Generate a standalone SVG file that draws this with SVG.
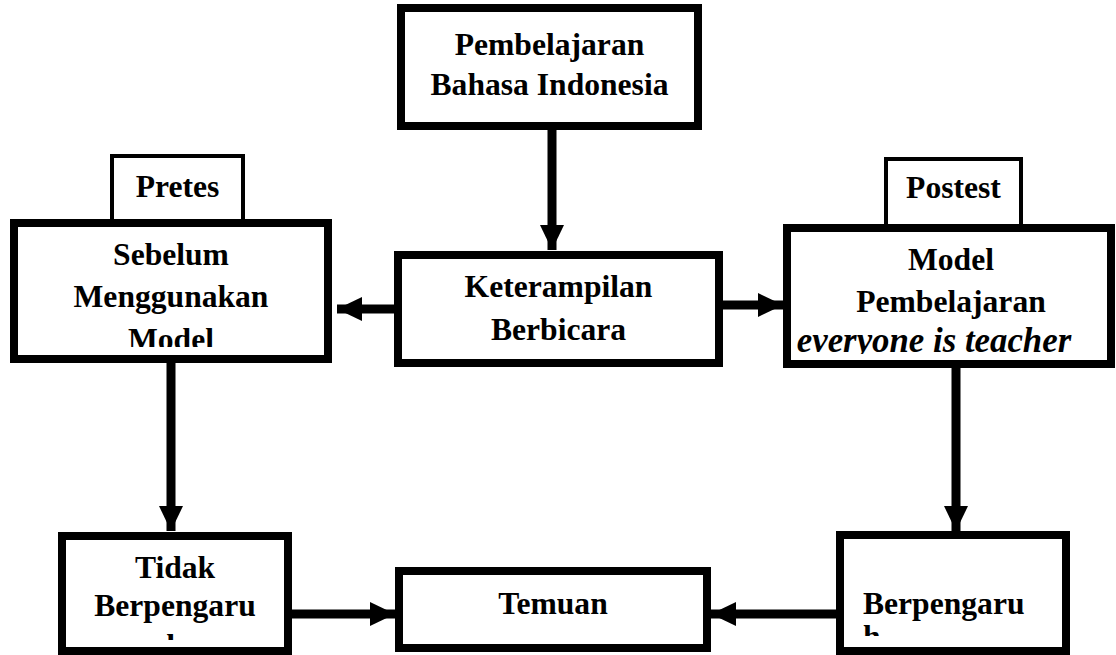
<svg xmlns="http://www.w3.org/2000/svg" width="1116" height="655" viewBox="0 0 1116 655">
<style>
.box{fill:#fff;stroke:#000;stroke-width:8}
.tab{fill:#fff;stroke:#000;stroke-width:4}
.t{font-family:"Liberation Serif","Times New Roman",serif;font-weight:bold;font-size:31.6px;fill:#000;text-anchor:middle}
.l{text-anchor:start}
.it{font-style:italic;font-size:34.8px}
.c{stroke:#000;stroke-width:9;fill:none;marker-end:url(#ah)}
</style>
<defs>
<marker id="ah" markerUnits="userSpaceOnUse" markerWidth="25" markerHeight="24" refX="25" refY="12" orient="auto">
<path d="M0,0 L25,12 L0,24 Z" fill="#000"/>
</marker>
<clipPath id="cPre"><rect x="18" y="227" width="306" height="120"/></clipPath>
<clipPath id="cPost"><rect x="791" y="232" width="316" height="122"/></clipPath>
<clipPath id="cTidak"><rect x="66" y="540" width="218" height="100"/></clipPath>
<clipPath id="cBer"><rect x="844" y="539" width="218" height="97"/></clipPath>
</defs>
<g id="connectors">
<line class="c" x1="552" y1="130" x2="552" y2="250"/>
<line class="c" x1="400" y1="309" x2="337" y2="309"/>
<line class="c" x1="722" y1="305" x2="783" y2="305"/>
<line class="c" x1="171" y1="362" x2="171" y2="531"/>
<line class="c" x1="956" y1="366" x2="956" y2="531"/>
<line class="c" x1="290" y1="614" x2="395" y2="614"/>
<line class="c" x1="838" y1="614" x2="711" y2="614"/>
</g>
<g id="node-pembelajaran">
<rect class="box" x="401" y="8" width="297" height="118"/>
<text class="t" x="549.5" y="55">Pembelajaran</text>
<text class="t" x="549.5" y="95">Bahasa Indonesia</text>
</g>
<g id="node-keterampilan">
<rect class="box" x="398" y="255" width="321" height="108"/>
<text class="t" x="558.5" y="297">Keterampilan</text>
<text class="t" x="558.5" y="340">Berbicara</text>
</g>
<g id="node-pretes-tab">
<rect class="tab" x="112" y="156" width="131" height="67"/>
<text class="t" x="177.5" y="197">Pretes</text>
</g>
<g id="node-sebelum">
<rect class="box" x="14" y="223" width="314" height="136"/>
<g clip-path="url(#cPre)">
<text class="t" x="171" y="265">Sebelum</text>
<text class="t" x="171" y="307">Menggunakan</text>
<text class="t" x="171" y="350">Model</text>
</g>
</g>
<g id="node-postest-tab">
<rect class="tab" x="886" y="159" width="135" height="67"/>
<text class="t" x="953.5" y="198">Postest</text>
</g>
<g id="node-model">
<rect class="box" x="787" y="228" width="324" height="136"/>
<g clip-path="url(#cPost)">
<text class="t" x="951" y="270">Model</text>
<text class="t" x="951" y="312">Pembelajaran</text>
<text class="t it" x="934" y="352">everyone is teacher</text>
</g>
</g>
<g id="node-tidak">
<rect class="box" x="62" y="536" width="226" height="115"/>
<g clip-path="url(#cTidak)">
<text class="t" x="175" y="578">Tidak</text>
<text class="t" x="175" y="616">Berpengaru</text>
<text class="t" x="175" y="656">h</text>
</g>
</g>
<g id="node-temuan">
<rect class="box" x="399" y="571" width="308" height="77"/>
<text class="t" x="553" y="614">Temuan</text>
</g>
<g id="node-berpengaruh">
<rect class="box" x="840" y="535" width="226" height="116"/>
<g clip-path="url(#cBer)">
<text class="t l" x="863" y="614">Berpengaru</text>
<text class="t l" x="863" y="647">h</text>
</g>
</g>
</svg>
